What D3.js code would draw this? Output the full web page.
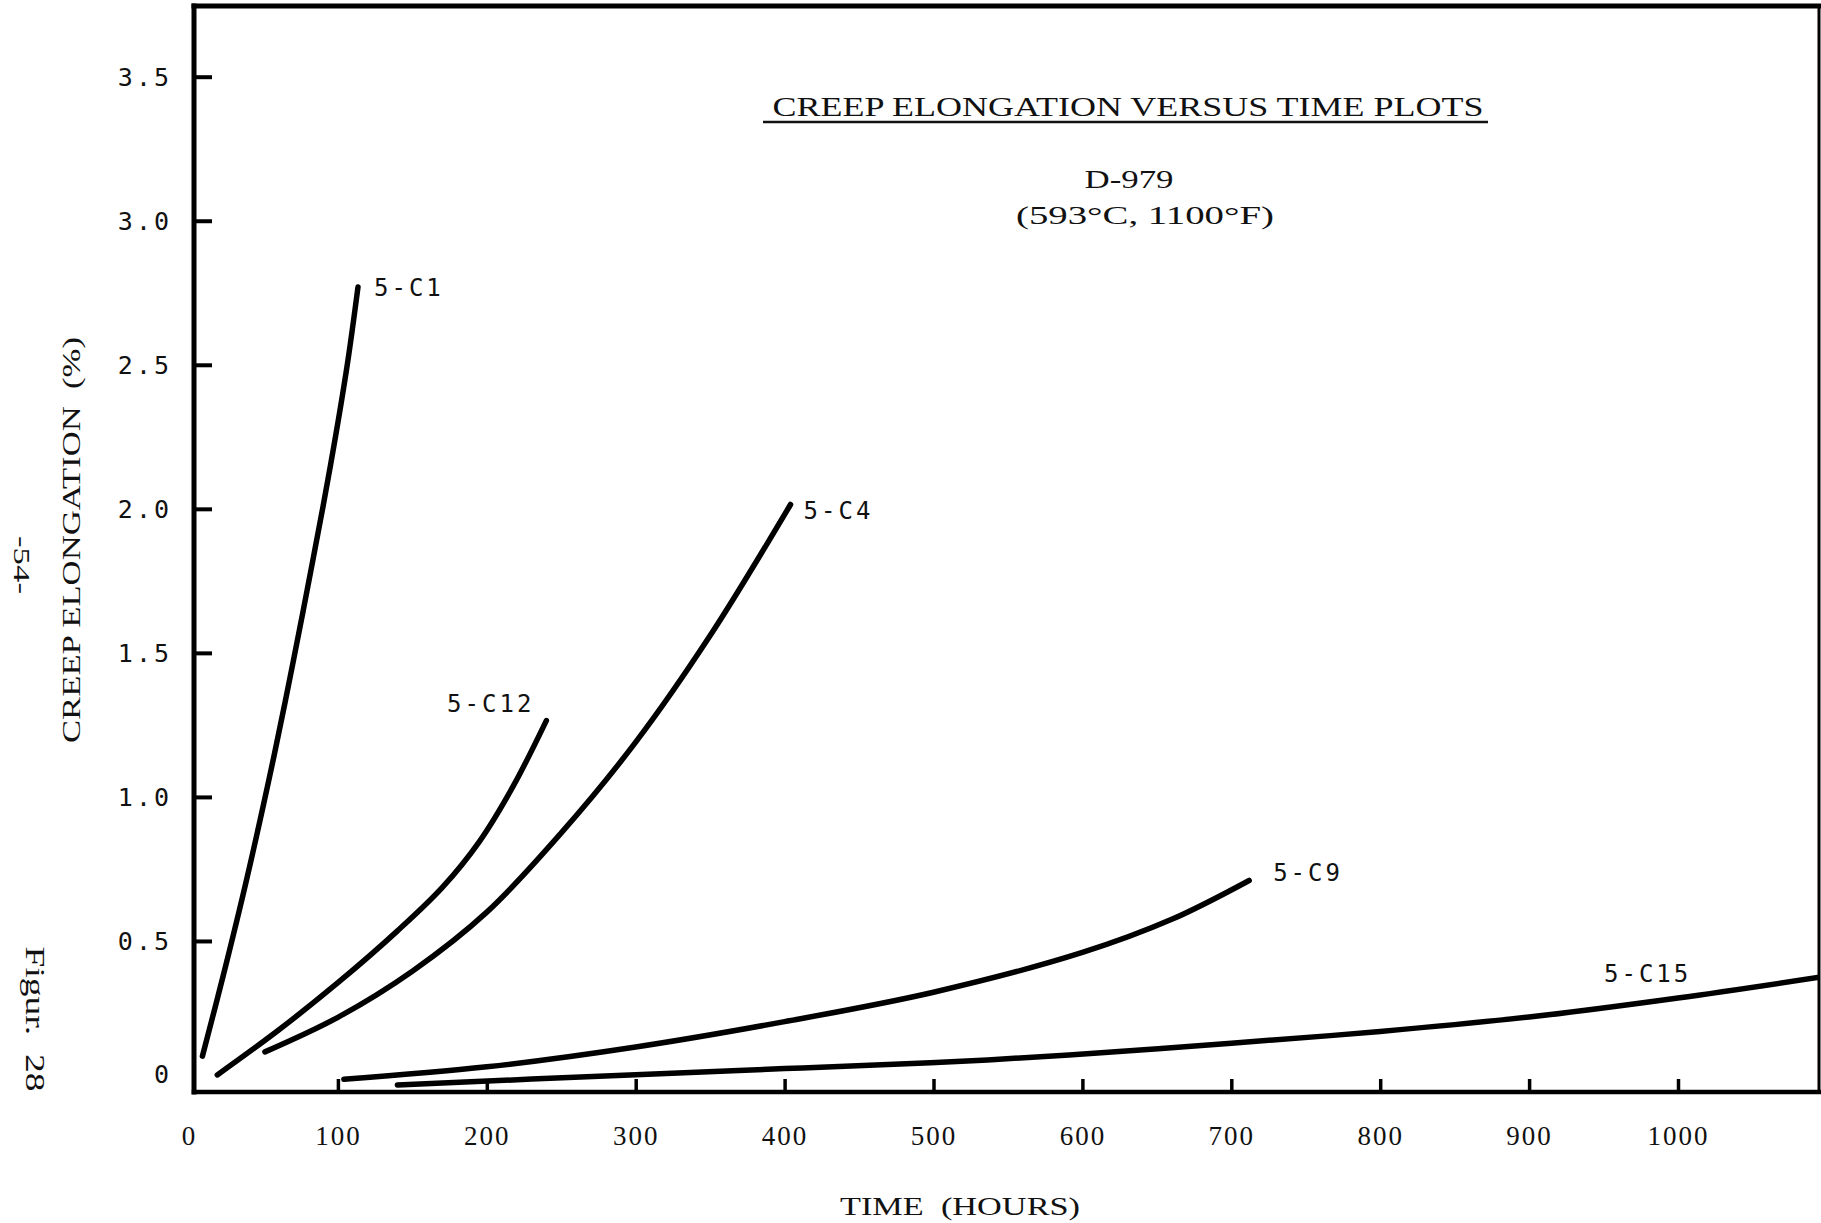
<!DOCTYPE html>
<html>
<head>
<meta charset="utf-8">
<script src="https://cdn.jsdelivr.net/npm/d3@7"></script>
<style>
  html, body { margin: 0; padding: 0; background: #fff; }
  svg { display: block; }
</style>
</head>
<body>
<script>
// ---- data -------------------------------------------------------------
const xTickValues = [0, 100, 200, 300, 400, 500, 600, 700, 800, 900, 1000];
const yTickValues = [0, 0.5, 1.0, 1.5, 2.0, 2.5, 3.0, 3.5];
const yTickLabels = ["0", "0.5", "1.0", "1.5", "2.0", "2.5", "3.0", "3.5"];

const specimens = ["5-C1", "5-C12", "5-C4", "5-C9", "5-C15"];

// time (hours) / creep elongation (%)
const c1Hours  = [9, 23, 39, 57, 70, 83.5, 95, 106, 113.5];
const c1Creep  = [0.10, 0.38, 0.72, 1.14, 1.47, 1.83, 2.15, 2.49, 2.77];

const c12Hours = [19, 60, 100, 140, 170, 195, 218, 240];
const c12Creep = [0.035, 0.19, 0.355, 0.535, 0.685, 0.845, 1.04, 1.265];

const c4Hours  = [51, 100, 150, 200, 250, 300, 350, 404];
const c4Creep  = [0.115, 0.235, 0.395, 0.60, 0.875, 1.19, 1.56, 2.015];

const c9Hours  = [104, 200, 300, 400, 500, 600, 660, 712];
const c9Creep  = [0.02, 0.063, 0.132, 0.22, 0.322, 0.46, 0.575, 0.71];

const c15Hours = [140, 300, 400, 498, 591, 700, 800, 900, 1000, 1096];
const c15Creep = [0.0, 0.036, 0.057, 0.077, 0.104, 0.145, 0.186, 0.236, 0.302, 0.375];

// ---- layout -----------------------------------------------------------
const W = 1821, H = 1223;
const frame = { left: 194, right: 1819, top: 6, bottom: 1092 };

const x = d3.scaleLinear().domain([0, 1000]).range([189, 1678]);
const y = d3.scaleLinear().domain([0, 3.5]).range([1085, 76.7]);

const svg = d3.select("body").append("svg")
  .attr("width", W).attr("height", H)
  .attr("viewBox", `0 0 ${W} ${H}`);

svg.append("rect").attr("width", W).attr("height", H).attr("fill", "#fff");

const serif = "'Liberation Serif', 'DejaVu Serif', serif";
const mono = "'DejaVu Sans Mono', 'Liberation Mono', monospace";

// ---- frame ------------------------------------------------------------
const frameG = svg.append("g").attr("stroke", "#000").attr("fill", "none")
  .attr("stroke-linecap", "square");
frameG.append("line").attr("x1", frame.left).attr("x2", frame.left)
  .attr("y1", frame.top).attr("y2", frame.bottom).attr("stroke-width", 5);
frameG.append("line").attr("x1", frame.left).attr("x2", frame.right)
  .attr("y1", frame.top).attr("y2", frame.top).attr("stroke-width", 5);
frameG.append("line").attr("x1", frame.left).attr("x2", frame.right)
  .attr("y1", frame.bottom).attr("y2", frame.bottom).attr("stroke-width", 4.5);
frameG.append("line").attr("x1", frame.right).attr("x2", frame.right)
  .attr("y1", frame.top).attr("y2", frame.bottom).attr("stroke-width", 3);

// ---- axes -------------------------------------------------------------
const yAxis = d3.axisLeft(y)
  .tickValues(yTickValues)
  .tickFormat((d, i) => yTickLabels[i])
  .tickSize(-18)
  .tickPadding(22);

const yG = svg.append("g").attr("transform", `translate(${frame.left},0)`).call(yAxis);
yG.select(".domain").remove();
yG.selectAll(".tick line").attr("stroke", "#000").attr("stroke-width", 4)
  .attr("display", d => d === 0 ? "none" : null);
yG.selectAll(".tick text")
  .attr("fill", "#111")
  .style("font-family", mono)
  .style("font-size", "25px")
  .style("letter-spacing", "3px")
  .attr("dy", d => d === 0 ? "-0.12em" : "0.34em");

const xAxis = d3.axisBottom(x)
  .tickValues(xTickValues)
  .tickFormat(d3.format("d"))
  .tickSize(-13)
  .tickPadding(34);

const xG = svg.append("g").attr("transform", `translate(0,${frame.bottom})`).call(xAxis);
xG.select(".domain").remove();
xG.selectAll(".tick line").attr("stroke", "#000").attr("stroke-width", 3.5)
  .attr("display", d => d === 0 ? "none" : null);
xG.selectAll(".tick text")
  .attr("fill", "#111")
  .style("font-family", serif)
  .style("font-size", "27px")
  .style("letter-spacing", "2px");

// ---- curves -----------------------------------------------------------
const curves = [
  { name: specimens[0], hours: c1Hours,  creep: c1Creep },
  { name: specimens[1], hours: c12Hours, creep: c12Creep },
  { name: specimens[2], hours: c4Hours,  creep: c4Creep },
  { name: specimens[3], hours: c9Hours,  creep: c9Creep },
  { name: specimens[4], hours: c15Hours, creep: c15Creep }
];

svg.append("clipPath").attr("id", "plot-clip")
  .append("rect")
  .attr("x", frame.left).attr("y", frame.top)
  .attr("width", frame.right - frame.left).attr("height", frame.bottom - frame.top);

const line = d3.line()
  .x(d => x(d[0]))
  .y(d => y(d[1]))
  .curve(d3.curveCatmullRom.alpha(0.5));

svg.append("g").attr("clip-path", "url(#plot-clip)")
  .selectAll("path")
  .data(curves)
  .join("path")
  .attr("d", c => line(c.hours.map((h, i) => [h, c.creep[i]])))
  .attr("fill", "none")
  .attr("stroke", "#000")
  .attr("stroke-width", 5.5)
  .attr("stroke-linecap", "round")
  .attr("stroke-linejoin", "round");

// specimen labels, placed beside the end of each curve
const labelPlacement = {
  "5-C1":  { at: "end", dx: 16,  dy: 9,   anchor: "start" },
  "5-C12": { at: "end", dx: -12, dy: -9,  anchor: "end" },
  "5-C4":  { at: "end", dx: 13,  dy: 14,  anchor: "start" },
  "5-C9":  { at: "end", dx: 24,  dy: 1,   anchor: "start" },
  "5-C15": { at: 8,     dx: -74, dy: -16, anchor: "start" }
};

svg.append("g").selectAll("text")
  .data(curves)
  .join("text")
  .each(function (c) {
    const p = labelPlacement[c.name];
    const i = p.at === "end" ? c.hours.length - 1 : p.at;
    d3.select(this)
      .attr("x", x(c.hours[i]) + p.dx)
      .attr("y", y(c.creep[i]) + p.dy)
      .attr("text-anchor", p.anchor);
  })
  .text(c => c.name)
  .attr("fill", "#111")
  .style("font-family", mono)
  .style("font-size", "24px")
  .style("letter-spacing", "3px");

// ---- titles -----------------------------------------------------------
svg.append("text")
  .attr("x", 1128).attr("y", 116)
  .attr("text-anchor", "middle")
  .attr("textLength", 711).attr("lengthAdjust", "spacingAndGlyphs")
  .attr("fill", "#111")
  .style("font-family", serif).style("font-size", "27px")
  .text("CREEP ELONGATION VERSUS TIME PLOTS");

svg.append("line")
  .attr("x1", 763).attr("x2", 1488).attr("y1", 122).attr("y2", 122)
  .attr("stroke", "#111").attr("stroke-width", 2.5);

svg.append("text")
  .attr("x", 1129).attr("y", 188)
  .attr("text-anchor", "middle")
  .attr("textLength", 89).attr("lengthAdjust", "spacingAndGlyphs")
  .attr("fill", "#111")
  .style("font-family", serif).style("font-size", "25px")
  .text("D-979");

svg.append("text")
  .attr("x", 1145).attr("y", 224)
  .attr("text-anchor", "middle")
  .attr("textLength", 258).attr("lengthAdjust", "spacingAndGlyphs")
  .attr("fill", "#111")
  .style("font-family", serif).style("font-size", "25px")
  .text("(593°C, 1100°F)");

// axis titles
svg.append("text")
  .attr("transform", "translate(80,540) rotate(-90)")
  .attr("text-anchor", "middle")
  .attr("textLength", 406).attr("lengthAdjust", "spacingAndGlyphs")
  .attr("fill", "#111")
  .style("font-family", serif).style("font-size", "26px")
  .style("white-space", "pre")
  .text("CREEP ELONGATION  (%)");

svg.append("text")
  .attr("x", 960).attr("y", 1215)
  .attr("text-anchor", "middle")
  .attr("textLength", 240).attr("lengthAdjust", "spacingAndGlyphs")
  .attr("fill", "#111")
  .style("font-family", serif).style("font-size", "26px")
  .style("white-space", "pre")
  .text("TIME  (HOURS)");

// page number and figure caption along the left margin
svg.append("text")
  .attr("transform", "translate(14,565) rotate(90)")
  .attr("text-anchor", "middle")
  .attr("textLength", 58).attr("lengthAdjust", "spacingAndGlyphs")
  .attr("fill", "#111")
  .style("font-family", serif).style("font-size", "24px")
  .text("-54-");

svg.append("text")
  .attr("transform", "translate(26,1019) rotate(90)")
  .attr("text-anchor", "middle")
  .attr("textLength", 145).attr("lengthAdjust", "spacingAndGlyphs")
  .attr("fill", "#111")
  .style("font-family", serif).style("font-size", "27px")
  .style("white-space", "pre")
  .text("Figur.  28");
</script>
</body>
</html>
